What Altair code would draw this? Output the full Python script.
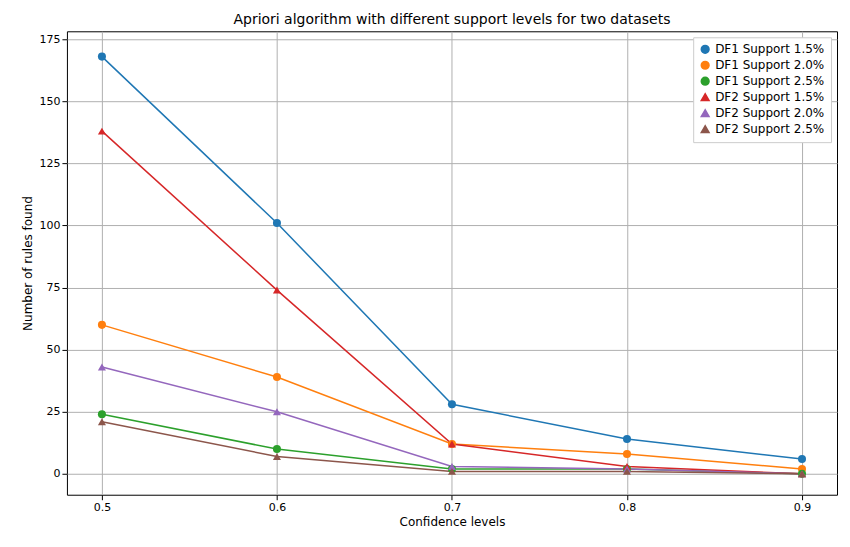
import altair as alt
import pandas as pd

conf = [0.5, 0.6, 0.7, 0.8, 0.9]
series = ["DF1 Support 1.5%", "DF1 Support 2.0%", "DF1 Support 2.5%",
          "DF2 Support 1.5%", "DF2 Support 2.0%", "DF2 Support 2.5%"]
df1_15 = [168, 101, 28, 14, 6]
df1_20 = [60, 39, 12, 8, 2]
df1_25 = [24, 10, 2, 2, 0]
df2_15 = [138, 74, 12, 3, 0]
df2_20 = [43, 25, 3, 2, 0]
df2_25 = [21, 7, 1, 1, 0]
colors = ["#1f77b4", "#ff7f0e", "#2ca02c", "#d62728", "#9467bd", "#8c564b"]
shapes = ["circle", "circle", "circle", "triangle-up", "triangle-up", "triangle-up"]

rows = []
for s, vals in zip(series, [df1_15, df1_20, df1_25, df2_15, df2_20, df2_25]):
    for c, v in zip(conf, vals):
        rows.append({"Confidence": c, "Rules": v, "Series": s})
df = pd.DataFrame(rows)

color = alt.Color("Series:N", scale=alt.Scale(domain=series, range=colors),
                  sort=series,
                  legend=alt.Legend(title=None, orient="top-right", labelFontSize=12,
                                    fillColor="white", strokeColor="#cccccc", padding=6,
                                    symbolSize=60, offset=6))
shape = alt.Shape("Series:N", scale=alt.Scale(domain=series, range=shapes), sort=series, legend=None)

x = alt.X("Confidence:Q", title="Confidence levels",
          scale=alt.Scale(domain=[0.48, 0.92], nice=False, zero=False),
          axis=alt.Axis(values=conf, format=".1f", grid=True, gridColor="#b0b0b0",
                        titleFontWeight="normal", titleFontSize=12, labelFontSize=11))
y = alt.Y("Rules:Q", title="Number of rules found",
          scale=alt.Scale(domain=[-8.4, 178.2], nice=False, zero=False),
          axis=alt.Axis(values=[0, 25, 50, 75, 100, 125, 150, 175], grid=True, gridColor="#b0b0b0",
                        titleFontWeight="normal", titleFontSize=12, labelFontSize=11))

lines = alt.Chart(df).mark_line(strokeWidth=1.5).encode(x=x, y=y, color=color, detail="Series:N")
pts = alt.Chart(df).mark_point(filled=True, size=65, opacity=1).encode(x=x, y=y, color=color, shape=shape)

chart = (lines + pts).properties(
    width=771, height=464,
    padding={"left": 14, "top": 5, "right": 5, "bottom": 5},
    title=alt.Title("Apriori algorithm with different support levels for two datasets",
                    fontSize=14, fontWeight="normal"),
).configure_view(stroke="black", strokeWidth=1).configure_axis(
    domain=False, tickColor="black", labelColor="black", titleColor="black", labelFont="DejaVu Sans", titleFont="DejaVu Sans"
).configure_legend(labelFont="DejaVu Sans").configure_title(font="DejaVu Sans")

chart.save("out.html", embed_options={"renderer": "svg", "actions": False})
